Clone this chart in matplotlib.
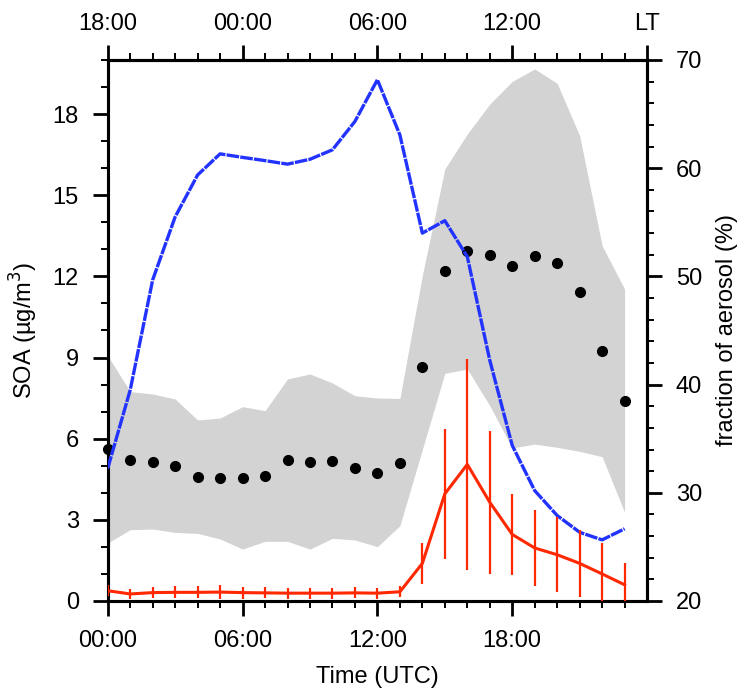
import matplotlib
matplotlib.use("Agg")
import matplotlib.pyplot as plt
import numpy as np
from matplotlib.ticker import MultipleLocator, FixedLocator

plt.rcParams['font.family'] = ['Liberation Sans', 'DejaVu Sans']

hours = np.arange(24)

# SOA mean and spread (left axis)
soa_mean = [0.38, 0.26, 0.31, 0.32, 0.32, 0.33, 0.31, 0.30, 0.29, 0.29, 0.29, 0.30,
            0.29, 0.34, 1.39, 3.96, 5.05, 3.65, 2.46, 1.96, 1.71, 1.39, 1.00, 0.60]
soa_std = [0.20, 0.20, 0.20, 0.22, 0.22, 0.25, 0.22, 0.20, 0.20, 0.20, 0.20, 0.20,
           0.20, 0.20, 0.77, 2.39, 3.90, 2.64, 1.50, 1.40, 1.39, 1.25, 1.13, 0.81]

# blue dashed series (left axis)
soa_blue = [4.9, 7.8, 11.87, 14.2, 15.75, 16.53, 16.4, 16.28, 16.15, 16.33, 16.68, 17.73,
            19.27, 17.23, 13.6, 14.06, 12.73, 8.9, 5.75, 4.08, 3.16, 2.54, 2.26, 2.67]

# fraction of aerosol (right axis): mean dots and shaded range
frac_mean = [34.05, 33.03, 32.85, 32.5, 31.43, 31.33, 31.37, 31.52, 33.06, 32.8, 32.97, 32.29,
             31.8, 32.75, 41.65, 50.46, 52.37, 52.0, 50.96, 51.88, 51.2, 48.52, 43.07, 38.45]
frac_hi = [42.67, 39.35, 39.13, 38.67, 36.73, 36.91, 37.96, 37.59, 40.52, 40.98, 40.15, 38.97,
           38.76, 38.72, 50.1, 59.93, 63.16, 65.93, 68.02, 69.17, 67.84, 63.0, 52.84, 48.83]
frac_lo = [25.36, 26.59, 26.65, 26.34, 26.25, 25.73, 24.8, 25.51, 25.51, 24.8, 25.79, 25.64,
           25.02, 26.96, 34.0, 41.04, 41.44, 38.05, 34.14, 34.5, 34.2, 33.83, 33.34, 28.19]

utc_ticks = [0, 6, 12, 18]
utc_labels = ['00:00', '06:00', '12:00', '18:00']
lt_ticks = [0, 6, 12, 18, 24]
lt_labels = ['18:00', '00:00', '06:00', '12:00', 'LT']

fs = 17

fig = plt.figure(figsize=(7.46, 6.96), dpi=100)
ax = fig.add_axes([0.1444, 0.1365, 0.7230, 0.7773])
ax2 = ax.twinx()

# shading + dots on the right axis, drawn below the left-axis lines
ax2.fill_between(hours, frac_lo, frac_hi, color='#d3d3d3', lw=0, zorder=1)
ax2.plot(hours, frac_mean, 'o', color='black', ms=7, zorder=2, clip_on=False)
ax2.set_ylim(20, 70)

ax.set_zorder(ax2.get_zorder() + 1)
ax.patch.set_visible(False)

ax.plot(hours, soa_blue, color='#2233ff', lw=2.4, ls=(0, (3.8, 0.35)), zorder=3)
ax.errorbar(hours, soa_mean, yerr=soa_std, color='#ff2800', lw=2.2, elinewidth=1.6,
            capsize=0, zorder=4)

ax.set_xlim(0, 24)
ax.set_ylim(0, 20)

ax.xaxis.set_major_locator(FixedLocator(utc_ticks))
ax.set_xticklabels(utc_labels)
ax.xaxis.set_minor_locator(FixedLocator([h for h in range(1, 24) if h % 6]))
ax.yaxis.set_major_locator(MultipleLocator(3))
ax.yaxis.set_minor_locator(MultipleLocator(1))
ax2.yaxis.set_major_locator(MultipleLocator(10))
ax2.yaxis.set_minor_locator(MultipleLocator(2))

top = ax.secondary_xaxis('top')
top.set_xticks(lt_ticks, labels=lt_labels)
top.xaxis.set_minor_locator(MultipleLocator(1))

for a in (ax, ax2, top):
    a.tick_params(which='major', direction='out', length=10.8, width=2.0, labelsize=fs)
    a.tick_params(which='minor', direction='out', length=5, width=1.4)
    for s in a.spines.values():
        s.set_linewidth(2.2)

ax.tick_params(axis='y', which='major', pad=10)
ax.tick_params(axis='x', which='major', pad=10)
ax2.tick_params(axis='y', which='major', pad=10)
top.tick_params(axis='x', which='major', pad=7)

ax.set_xlabel('Time (UTC)', fontsize=fs, labelpad=10)
ax.set_ylabel('SOA (µg/m$^3$)', fontsize=fs, labelpad=9)
ax2.set_ylabel('fraction of aerosol (%)', fontsize=fs, labelpad=10)

fig.savefig('out.png', dpi=100)
